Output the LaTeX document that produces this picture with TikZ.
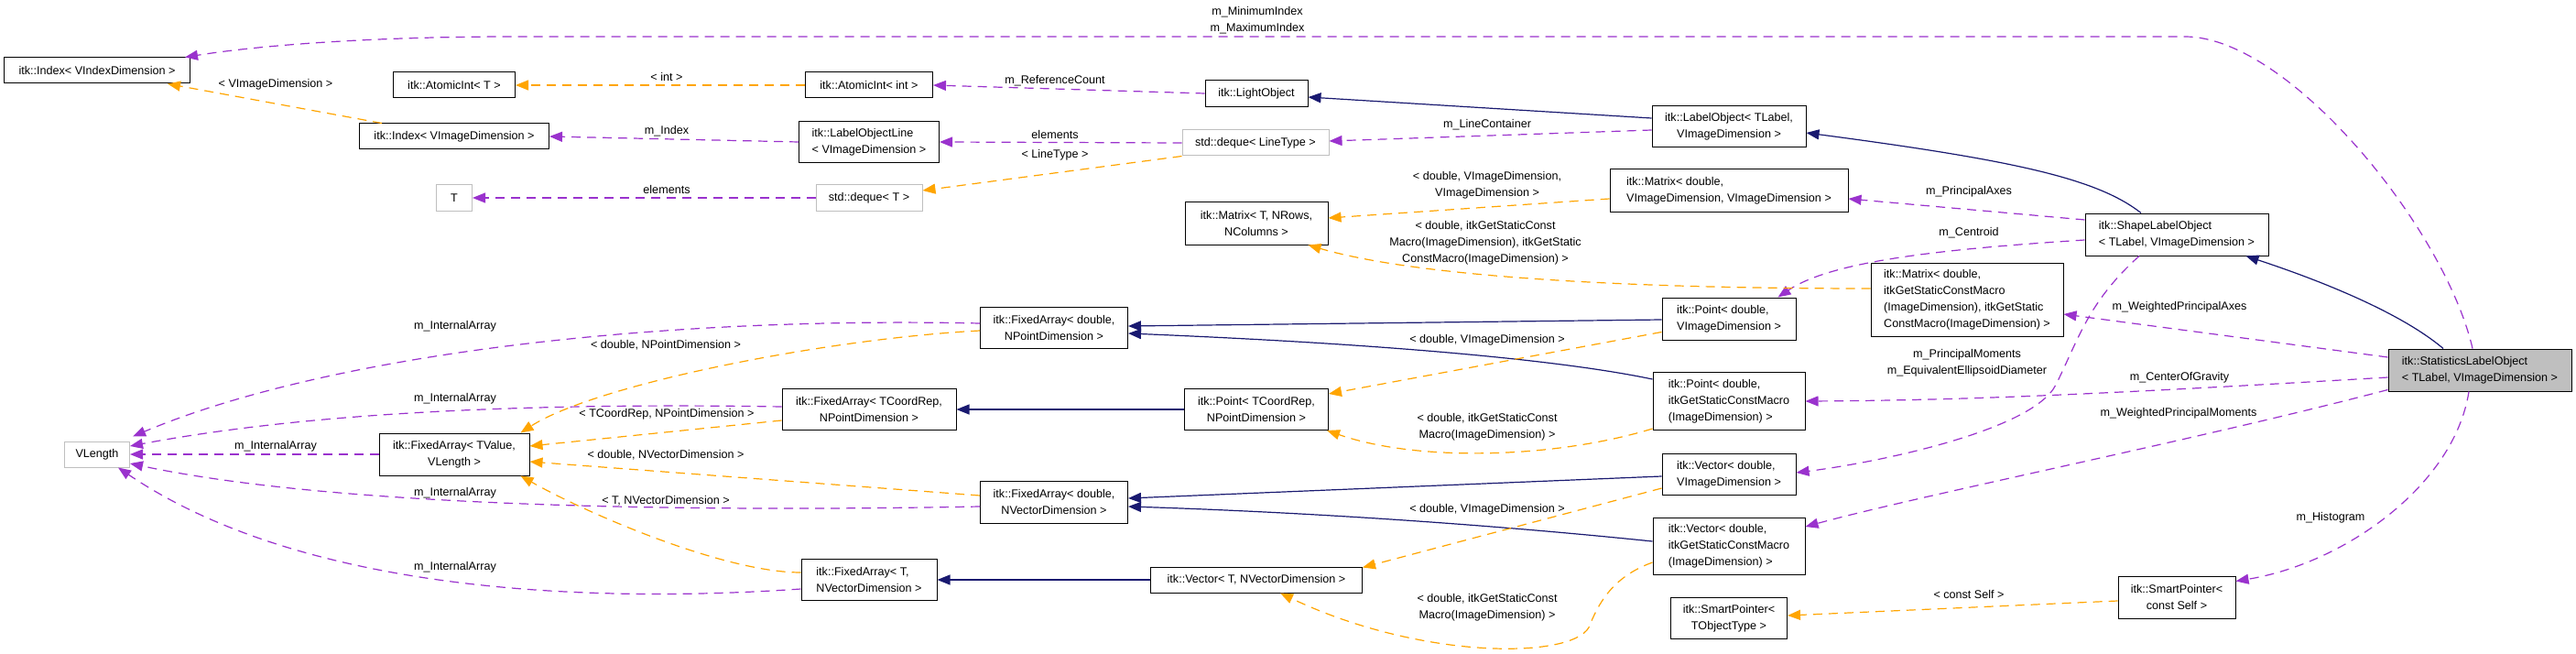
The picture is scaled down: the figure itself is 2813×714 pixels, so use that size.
\documentclass[tikz,border=0pt]{standalone}
\usepackage{fontspec}
\setmainfont{Liberation Sans}
\usepackage{tikz}
\usetikzlibrary{arrows.meta, calc}
\definecolor{useline}{HTML}{9A32CD}
\definecolor{tmplline}{HTML}{FFA500}
\definecolor{inhline}{HTML}{191970}
\definecolor{undocgrey}{HTML}{BFBFBF}
\tikzset{
  cls/.style={rectangle, draw=black, fill=white, line width=1pt,
    inner sep=0pt, align=center},
  clsl/.style={cls, align=left},
  undoc/.style={cls, draw=undocgrey},
  sz/.style 2 args={minimum width=#1pt, minimum height=#2pt},
  lbl/.style={inner sep=0pt, align=center},
  usage/.style={-{Triangle[length=14pt, width=11pt]}, draw=useline,
    fill=none, line width=1.2pt, dash pattern=on 10pt off 7pt},
  tmpl/.style={usage, draw=tmplline},
  inherit/.style={-{Triangle[length=14pt, width=11pt]}, draw=inhline,
    line width=1.2pt}
}
\begin{document}
\begin{tikzpicture}[x=1pt, y=-1pt, font=\fontsize{12.6}{18}\selectfont]
  \fill[white] (0,0) rectangle (2813,714);
  \useasboundingbox (0,0) rectangle (2813,714);

  % Classes
  \node[cls, sz={203}{28}] (idxV) at (106,77) {itk::Index< VIndexDimension >};
  \node[cls, sz={133}{28}] (atomT) at (496,93) {itk::AtomicInt< T >};
  \node[cls, sz={207}{28}] (idxVI) at (496,149) {itk::Index< VImageDimension >};
  \node[undoc, sz={39}{28}] (tNode) at (496,216) {T};
  \node[undoc, sz={71}{28}] (vlen) at (106,496) {VLength};
  \node[cls, sz={164}{46}] (fixTL) at (496,496) {itk::FixedArray< TValue,\\VLength >};

  \node[cls, sz={139}{28}] (atomInt) at (949,93) {itk::AtomicInt< int >};
  \node[clsl, sz={153}{45}] (lblLine) at (949,155) {itk::LabelObjectLine\\< VImageDimension >};
  \node[undoc, sz={116}{28}] (dequeT) at (949,216) {std::deque< T >};
  \node[cls, sz={190}{45}] (fixCP) at (949,447) {itk::FixedArray< TCoordRep,\\NPointDimension >};
  \node[clsl, sz={148}{45}] (fixTV) at (949,633) {itk::FixedArray< T,\\ NVectorDimension >};
  \node[cls, sz={161}{45}] (fixDP) at (1151,358) {itk::FixedArray< double,\\NPointDimension >};
  \node[cls, sz={161}{46}] (fixDV) at (1151,548) {itk::FixedArray< double,\\NVectorDimension >};

  \node[cls, sz={112}{29}] (lightObj) at (1372,102) {itk::LightObject};
  \node[undoc, sz={160}{28}] (dequeLT) at (1371,156) {std::deque< LineType >};
  \node[cls, sz={156}{46}] (matT) at (1372,244) {itk::Matrix< T, NRows,\\NColumns >};
  \node[cls, sz={157}{45}] (ptCP) at (1372,447) {itk::Point< TCoordRep,\\NPointDimension >};
  \node[cls, sz={231}{28}] (vecTV) at (1372,633) {itk::Vector< T, NVectorDimension >};

  \node[cls, sz={168}{45}] (lblObj) at (1888,138) {itk::LabelObject< TLabel,\\VImageDimension >};
  \node[clsl, sz={260}{46}] (matDVV) at (1888,208) {itk::Matrix< double,\\ VImageDimension, VImageDimension >};
  \node[clsl, sz={146}{46}] (ptDV) at (1888,348) {itk::Point< double,\\ VImageDimension >};
  \node[clsl, sz={166}{63}] (ptDG) at (1888,438) {itk::Point< double,\\ itkGetStaticConstMacro\\(ImageDimension) >};
  \node[clsl, sz={146}{45}] (vecDV) at (1888,518) {itk::Vector< double,\\ VImageDimension >};
  \node[clsl, sz={166}{62}] (vecDG) at (1888,596) {itk::Vector< double,\\ itkGetStaticConstMacro\\(ImageDimension) >};
  \node[cls, sz={127}{45}] (smartT) at (1888,675) {itk::SmartPointer<\\TObjectType >};

  \node[clsl, sz={210}{80}] (matDGG) at (2148,327) {itk::Matrix< double,\\ itkGetStaticConstMacro\\(ImageDimension), itkGetStatic\\ConstMacro(ImageDimension) >};
  \node[clsl, sz={200}{46}] (shapeLO) at (2377,256) {itk::ShapeLabelObject\\< TLabel, VImageDimension >};
  \node[cls, sz={128}{46}] (smartCS) at (2377,652) {itk::SmartPointer<\\const Self >};
  \node[clsl, sz={200}{46}, fill=undocgrey] (statLO) at (2708,404) {itk::StatisticsLabelObject\\< TLabel, VImageDimension >};

  % Inheritance
  \draw[inherit] ($(lblObj.west)+(0,-9)$) -- ($(lightObj.east)+(0,4)$);
  \draw[inherit] ($(shapeLO.north)+(-39,0)$) .. controls (2290,195) and (2200,175) .. ($(lblObj.east)+(0,7)$);
  \draw[inherit] ($(statLO.north)+(-40,0)$) .. controls (2620,340) and (2530,305) .. ($(shapeLO.south east)+(-25,0)$);
  \draw[inherit] ($(ptDV.west)+(0,1)$) -- ($(fixDP.east)+(0,-2)$);
  \draw[inherit] ($(ptDG.north west)+(0,8)$) .. controls (1700,392) and (1500,375) .. ($(fixDP.east)+(0,6)$);
  \draw[inherit] (ptCP.west) -- (fixCP.east);
  \draw[inherit] ($(vecDV.west)+(0,2)$) -- ($(fixDV.east)+(0,-4)$);
  \draw[inherit] ($(vecDG.west)+(0,-5)$) .. controls (1650,575) and (1450,560) .. ($(fixDV.east)+(0,5)$);
  \draw[inherit] (vecTV.west) -- (fixTV.east);

  % Members
  \draw[usage] ($(statLO.north)+(-8,0)$) .. controls (2670,250) and (2500,40) .. (2386,40)
    -- (560,40) .. controls (400,40) and (280,50) .. ($(idxV.north east)+(-6,0)$);
  \draw[usage] (lightObj.west) -- (atomInt.east);
  \draw[usage] (lblLine.west) -- (idxVI.east);
  \draw[usage] (dequeLT.west) -- (lblLine.east);
  \draw[usage] ($(lblObj.west)+(0,4)$) -- ($(dequeLT.east)+(0,-2)$);
  \draw[usage] (dequeT.west) -- (tNode.east);
  \draw[usage] ($(shapeLO.west)+(0,-16)$) -- ($(matDVV.east)+(0,9)$);
  \draw[usage] ($(shapeLO.west)+(0,6)$) .. controls (2120,272) and (2000,285) .. ($(ptDV.north east)+(-20,0)$);
  \draw[usage] ($(shapeLO.south)+(-41,0)$) .. controls (2280,330) and (2270,370) .. (2245,420)
    .. controls (2220,470) and (2050,505) .. ($(vecDV.east)+(0,-2)$);
  \draw[usage] ($(statLO.west)+(0,-14)$) -- ($(matDGG.east)+(0,16)$);
  \draw[usage] ($(statLO.west)+(0,8)$) .. controls (2300,430) and (2150,437) .. (ptDG.east);
  \draw[usage] ($(statLO.south west)+(0,-2)$) .. controls (2400,480) and (2100,540) .. ($(vecDG.east)+(0,-21)$);
  \draw[usage] ($(statLO.south)+(-12,0)$) .. controls (2680,530) and (2560,615) .. ($(smartCS.north east)+(0,6)$);
  \draw[usage] ($(fixDP.west)+(0,-5)$) .. controls (700,345) and (350,390) .. ($(vlen.north east)+(3,-5)$);
  \draw[usage] ($(fixCP.west)+(0,-3)$) .. controls (600,440) and (350,448) .. ($(vlen.east)+(0,-9)$);
  \draw[usage] (fixTL.west) -- (vlen.east);
  \draw[usage] ($(fixDV.west)+(0,5)$) .. controls (700,560) and (350,550) .. ($(vlen.east)+(0,10)$);
  \draw[usage] ($(fixTV.west)+(0,10)$) .. controls (700,655) and (350,660) .. ($(vlen.south)+(23,0)$);

  % Template instances
  \draw[tmpl] (atomInt.west) -- (atomT.east);
  \draw[tmpl] ($(idxVI.north west)+(25,0)$) -- ($(idxV.south east)+(-25,0)$);
  \draw[tmpl] (dequeLT.south west) -- ($(dequeT.east)+(0,-8)$);
  \draw[tmpl] ($(matDVV.west)+(0,9)$) -- ($(matT.east)+(0,-6)$);
  \draw[tmpl] ($(matDGG.west)+(0,-12)$) .. controls (1750,315) and (1540,300) .. ($(matT.south east)+(-22,0)$);
  \draw[tmpl] ($(ptDV.south west)+(0,-9)$) -- ($(ptCP.east)+(0,-17)$);
  \draw[tmpl] ($(ptDG.south west)+(0,-2)$) .. controls (1700,500) and (1550,505) .. ($(ptCP.south east)+(-2,0)$);
  \draw[tmpl] ($(vecDV.west)+(0,15)$) -- ($(vecTV.north east)+(0,1)$);
  \draw[tmpl] ($(vecDG.west)+(0,18)$) .. controls (1760,630) and (1745,660) .. (1735,685)
    .. controls (1715,720) and (1550,720) .. ($(vecTV.south)+(26,0)$);
  \draw[tmpl] ($(smartCS.west)+(0,4)$) -- ($(smartT.east)+(0,-3)$);
  \draw[tmpl] ($(fixDP.west)+(0,3)$) .. controls (900,370) and (650,420) .. ($(fixTL.north east)+(-10,0)$);
  \draw[tmpl] ($(fixCP.west)+(0,12)$) -- ($(fixTL.east)+(0,-9)$);
  \draw[tmpl] ($(fixDV.west)+(0,-7)$) -- ($(fixTL.east)+(0,8)$);
  \draw[tmpl] ($(fixTV.west)+(0,-8)$) .. controls (790,625) and (640,560) .. ($(fixTL.south east)+(-10,0)$);

  % Edge labels
  \node[lbl] (lMinMax) at (1373,22) {m\_MinimumIndex\\m\_MaximumIndex};
  \node[lbl] (lInt) at (728,84) {< int >};
  \node[lbl] (lRefCount) at (1152,88) {m\_ReferenceCount};
  \node[lbl] (lVImg) at (301,92) {< VImageDimension >};
  \node[lbl] (lIndex) at (728,143) {m\_Index};
  \node[lbl] (lElemLine) at (1152,147) {elements};
  \node[lbl] (lLineType) at (1152,169) {< LineType >};
  \node[lbl] (lElemT) at (728,207) {elements};
  \node[lbl] (lLineCont) at (1624,136) {m\_LineContainer};
  \node[lbl] (lMatDVV) at (1624,202) {< double, VImageDimension,\\VImageDimension >};
  \node[lbl] (lMatDGG) at (1622,265) {< double, itkGetStaticConst\\Macro(ImageDimension), itkGetStatic\\ConstMacro(ImageDimension) >};
  \node[lbl] (lPrincAxes) at (2150,209) {m\_PrincipalAxes};
  \node[lbl] (lCentroid) at (2150,254) {m\_Centroid};
  \node[lbl] (lWPA) at (2380,335) {m\_WeightedPrincipalAxes};
  \node[lbl] (lPrincMom) at (2148,396) {m\_PrincipalMoments\\m\_EquivalentEllipsoidDiameter};
  \node[lbl] (lCoG) at (2380,412) {m\_CenterOfGravity};
  \node[lbl] (lWPM) at (2379,451) {m\_WeightedPrincipalMoments};
  \node[lbl] (lHisto) at (2545,565) {m\_Histogram};
  \node[lbl] (lConstSelf) at (2150,649) {< const Self >};
  \node[lbl] (lPtDV) at (1624,371) {< double, VImageDimension >};
  \node[lbl] (lPtDG) at (1624,466) {< double, itkGetStaticConst\\Macro(ImageDimension) >};
  \node[lbl] (lVecDV) at (1624,556) {< double, VImageDimension >};
  \node[lbl] (lVecDG) at (1624,663) {< double, itkGetStaticConst\\Macro(ImageDimension) >};
  \node[lbl] (lIA1) at (497,356) {m\_InternalArray};
  \node[lbl] (lIA2) at (497,435) {m\_InternalArray};
  \node[lbl] (lIA3) at (301,487) {m\_InternalArray};
  \node[lbl] (lIA4) at (497,538) {m\_InternalArray};
  \node[lbl] (lIA5) at (497,619) {m\_InternalArray};
  \node[lbl] (lDblNP) at (727,377) {< double, NPointDimension >};
  \node[lbl] (lTCoord) at (728,452) {< TCoordRep, NPointDimension >};
  \node[lbl] (lDblNV) at (727,497) {< double, NVectorDimension >};
  \node[lbl] (lTNV) at (727,547) {< T, NVectorDimension >};
\end{tikzpicture}
\end{document}
